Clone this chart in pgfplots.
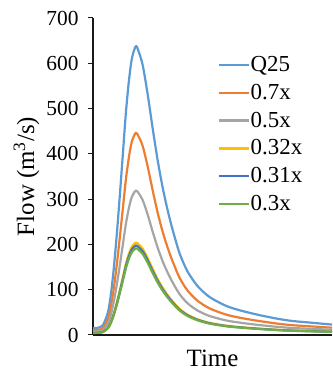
\documentclass[border=0pt]{standalone}
\usepackage{fontspec}
\setmainfont{Liberation Serif}
\usepackage{pgfplots}
\pgfplotsset{compat=1.18}
\definecolor{cQ}{HTML}{5B9BD5}
\definecolor{cO}{HTML}{ED7D31}
\definecolor{cG}{HTML}{A5A5A5}
\definecolor{cY}{HTML}{FFC000}
\definecolor{cB}{HTML}{4472C4}
\definecolor{cGr}{HTML}{70AD47}
\begin{document}
\begin{tikzpicture}
\begin{axis}[
  name=ax,
  scale only axis,
  width=239bp, height=317bp,
  xmin=0, xmax=240, ymin=0, ymax=700,
  axis x line*=bottom, axis y line*=left,
  axis line style={-, line width=1.2bp, black!90},
  xtick=\empty,
  ytick={0,100,...,700},
  tick align=outside,
  major tick length=5bp,
  tick style={line width=1bp, black!90},
  /pgf/number format/assume math mode=true,
  yticklabel style={font=\fontsize{21.5}{21.5}\selectfont, xshift=-6bp},
  xlabel={Time},
  ylabel={Flow (m\textsuperscript{3}/s)},
  label style={font=\fontsize{25}{25}\selectfont},
  xlabel style={yshift=-6bp},
  ylabel style={yshift=0bp},
  legend cell align=left,
  legend style={at={(rel axis cs:0.52,0.897)}, anchor=north west, draw=none, fill=none,
    font=\fontsize{23}{23}\selectfont, row sep=0pt, inner sep=0pt,
    nodes={inner sep=1pt, text height=19.5pt, text depth=6.5pt}},
  legend image code/.code={\draw[#1] (0bp,0bp) -- (30bp,0bp);},
  every axis plot/.append style={line width=2.2bp, line join=round, smooth, tension=0.45},
]
\addplot[cQ] coordinates {(0,15)(5,16)(10,22)(15,50)(18,90)(21,150)(24,225)(27,310)(30,400)(33,490)(36,560)(39,610)(43,638)(46,625)(50,595)(55,530)(60,455)(65,385)(70,325)(75,275)(80,232)(87,180)(95,140)(105,108)(117,84)(134,64)(150,53)(167,44)(185,36)(200,31)(220,27)(240,23)};
\addlegendentry{Q25}
\addplot[cO] coordinates {(0,10.5)(5,11.2)(10,15.4)(15,35)(18,63)(21,105)(24,157.5)(27,217)(30,280)(33,343)(36,392)(39,427)(43,446.6)(46,437.5)(50,416.5)(55,371)(60,318.5)(65,269.5)(70,227.5)(75,192.5)(80,162.4)(87,126)(95,98)(105,75.6)(117,58.8)(134,44.8)(150,37.1)(167,30.8)(185,25.2)(200,21.7)(220,18.9)(240,16.1)};
\addlegendentry{0.7x}
\addplot[cG] coordinates {(0,7.5)(5,8)(10,11)(15,25)(18,45)(21,75)(24,112.5)(27,155)(30,200)(33,245)(36,280)(39,305)(43,319)(46,312.5)(50,297.5)(55,265)(60,227.5)(65,192.5)(70,162.5)(75,137.5)(80,116)(87,90)(95,70)(105,54)(117,42)(134,32)(150,26.5)(167,22)(185,18)(200,15.5)(220,13.5)(240,11.5)};
\addlegendentry{0.5x}
\addplot[cY] coordinates {(0,4.8)(5,5.12)(10,7.04)(15,16)(18,28.8)(21,48)(24,72)(27,99.2)(30,128)(33,156.8)(36,179.2)(39,195.2)(43,204.2)(46,200)(50,190.4)(55,169.6)(60,145.6)(65,123.2)(70,104)(75,88)(80,74.2)(87,57.6)(95,44.8)(105,34.6)(117,26.9)(134,20.5)(150,17)(167,14.1)(185,11.5)(200,9.9)(220,8.6)(240,7.4)};
\addlegendentry{0.32x}
\addplot[cB] coordinates {(0,4.65)(5,4.96)(10,6.82)(15,15.5)(18,27.9)(21,46.5)(24,69.75)(27,96.1)(30,124)(33,151.9)(36,173.6)(39,189.1)(43,197.8)(46,193.75)(50,184.45)(55,164.3)(60,141.05)(65,119.35)(70,100.75)(75,85.25)(80,71.9)(87,55.8)(95,43.4)(105,33.5)(117,26)(134,19.8)(150,16.4)(167,13.6)(185,11.2)(200,9.6)(220,8.4)(240,7.1)};
\addlegendentry{0.31x}
\addplot[cGr] coordinates {(0,4.5)(5,4.8)(10,6.6)(15,15)(18,27)(21,45)(24,67.5)(27,93)(30,120)(33,147)(36,168)(39,183)(43,191.4)(46,187.5)(50,178.5)(55,159)(60,136.5)(65,115.5)(70,97.5)(75,82.5)(80,69.6)(87,54)(95,42)(105,32.4)(117,25.2)(134,19.2)(150,15.9)(167,13.2)(185,10.8)(200,9.3)(220,8.1)(240,6.9)};
\addlegendentry{0.3x}
\end{axis}
\pgfresetboundingbox
\path[use as bounding box] ([shift={(-93bp,-39bp)}]ax.south west) rectangle ([shift={(0bp,18bp)}]ax.north east);
\end{tikzpicture}
\end{document}
